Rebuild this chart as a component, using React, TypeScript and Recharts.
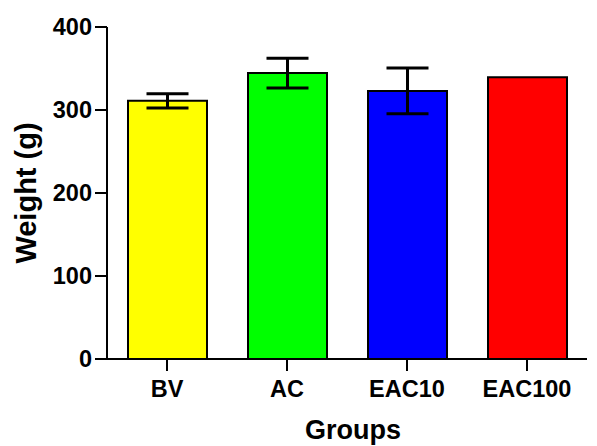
import { BarChart, Bar, XAxis, YAxis, Cell, ErrorBar } from "recharts";

const groups = ["BV", "AC", "EAC10", "EAC100"];
const weights = [311, 344.5, 323, 339.5];
const errors = [8.5, 18, 27.5, 0];
const barColors = ["#ffff00", "#00ff00", "#0000ff", "#ff0000"];
const yTicks = [0, 100, 200, 300, 400];

const data = groups.map((g, i) => ({ group: g, weight: weights[i], err: errors[i] }));

const font = "'Liberation Sans', Arial, sans-serif";
const tickStyle = { fill: "#000", fontSize: 23.5, fontWeight: 700, fontFamily: font };

export default function App() {
  return (
    <div style={{ position: "absolute", left: 0, top: 0, background: "#fff" }}>
      <BarChart
        width={597}
        height={446}
        data={data}
        margin={{ top: 27, right: 10, left: 0, bottom: 0 }}
      >
        <XAxis
          dataKey="group"
          height={87}
          tick={tickStyle}
          tickSize={12}
          tickMargin={9}
          axisLine={{ stroke: "#000", strokeWidth: 2 }}
          tickLine={{ stroke: "#000", strokeWidth: 2 }}
          label={{
            value: "Groups",
            position: "insideBottom",
            offset: 7,
            dx: 6,
            style: { fill: "#000", fontSize: 27, fontWeight: 700, fontFamily: font },
          }}
        />
        <YAxis
          width={107}
          domain={[0, 400]}
          ticks={yTicks}
          tick={tickStyle}
          tickSize={12}
          tickMargin={3}
          axisLine={{ stroke: "#000", strokeWidth: 2 }}
          tickLine={{ stroke: "#000", strokeWidth: 2 }}
          label={{
            value: "Weight (g)",
            angle: -90,
            position: "insideLeft",
            offset: 26,
            style: { fill: "#000", fontSize: 29, fontWeight: 700, fontFamily: font, textAnchor: "middle" },
          }}
        />
        <Bar dataKey="weight" barSize={79} stroke="#000" strokeWidth={2} isAnimationActive={false}>
          {data.map((d, i) => (
            <Cell key={d.group} fill={barColors[i]} />
          ))}
          <ErrorBar dataKey="err" width={21} stroke="#000" strokeWidth={3} isAnimationActive={false} />
        </Bar>
      </BarChart>
    </div>
  );
}
